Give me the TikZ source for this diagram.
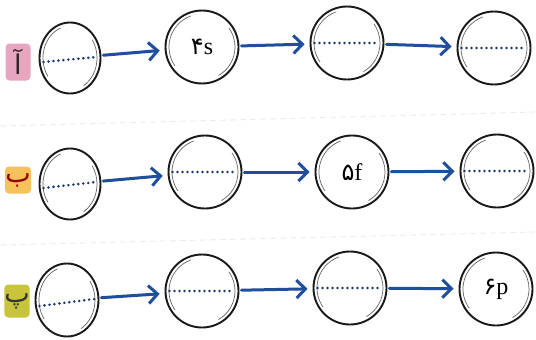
\documentclass[tikz,border=0pt]{standalone}
\usepackage{fontspec}
\setmainfont{Liberation Serif}
\newfontfamily\arabicfont[Script=Arabic]{DejaVu Sans}
\TeXXeTstate=1
\usetikzlibrary{arrows.meta,shapes.geometric}

\definecolor{inkblue}{HTML}{1F4E9C}
\definecolor{dotblue}{HTML}{1A3570}
\definecolor{tagpink}{HTML}{E8A5C0}
\definecolor{tagorange}{HTML}{F5C25C}
\definecolor{taggreen}{HTML}{C8C43C}

\tikzset{
  ring/.style={ellipse, draw=black!90, line width=1.9pt, inner sep=0pt,
    minimum width=73pt, minimum height=73pt,
    font=\fontsize{24}{24}\selectfont},
  firstring/.style={ring, minimum width=61pt, minimum height=71pt},
  innerline/.style={draw=black!60, line width=0.7pt},
  dots/.style={dotblue, line width=2.8pt, line cap=round,
    dash pattern=on 0pt off 5pt},
  link/.style={inkblue, line width=3pt, line cap=round,
    -{Straight Barb[length=9pt,width=18pt]}, shorten <=2pt, shorten >=5pt},
  tag/.style={rounded corners=4pt, inner sep=0pt,
    font=\arabicfont\fontsize{27}{27}\selectfont},
  rule/.style={black!8, line width=0.8pt, dash pattern=on 6pt off 4pt}
}

\begin{document}
\begin{tikzpicture}[x=1pt,y=-1pt]
\useasboundingbox[fill=white] (0,0) rectangle (536,340);

% faint ruling between the rows
\draw[rule] (0,126) -- (536,112);
\draw[rule] (0,245) -- (536,232);

% row tags
\node[tag, fill=tagpink, minimum width=25pt, minimum height=37pt,
      text=black!85] (t1) at (18,62) {\beginR آ\endR};
\node[tag, fill=tagorange, minimum width=26pt, minimum height=27pt,
      text=red!60!black] (t2) at (18,180) {\beginR ب\endR};
\node[tag, fill=taggreen, minimum width=23pt, minimum height=33pt,
      text=black!80] (t3) at (17,301) {\beginR پ\endR};

% first row
\node[firstring] (c11) at (70,58) {};
\node[ring] (c12) at (202,47) {{\arabicfont ۴}s};
\node[ring] (c13) at (347,43) {};
\node[ring] (c14) at (494,48) {};

% second row
\node[firstring] (c21) at (70,184) {};
\node[ring] (c22) at (205,172) {};
\node[ring] (c23) at (352,172) {{\arabicfont ۵}f};
\node[ring] (c24) at (497,171) {};

% third row
\node[firstring, minimum width=63pt, minimum height=73pt] (c31) at (67,300) {};
\node[ring] (c32) at (202,291) {};
\node[ring] (c33) at (350,288) {};
\node[ring] (c34) at (496,289) {{\arabicfont ۶}p};

% thin second stroke inside each ring
\foreach \n/\rx/\ry in {c11/27/32,c21/27/32,c31/28/33,
    c12/33/33,c13/33/33,c14/33/33,c22/33/33,c23/33/33,c24/33/33,
    c32/33/33,c33/33/33,c34/33/33}{
  \draw[innerline] ([shift={(110:\rx pt and \ry pt)}]\n.center)
    arc[start angle=110, end angle=215, x radius=\rx pt, y radius=\ry pt];
  \draw[innerline] ([shift={(-60:\rx pt and \ry pt)}]\n.center)
    arc[start angle=-60, end angle=35, x radius=\rx pt, y radius=\ry pt];
}

% dotted blanks
\draw[dots] ([xshift=5pt,yshift=-4pt]c11.west) -- ([xshift=-5pt,yshift=1pt]c11.east);
\draw[dots] ([xshift=5pt]c13.west) -- ([xshift=-5pt]c13.east);
\draw[dots] ([xshift=5pt]c14.west) -- ([xshift=-5pt]c14.east);
\draw[dots] ([xshift=5pt,yshift=-4pt]c21.west) -- ([xshift=-5pt,yshift=2pt]c21.east);
\draw[dots] ([xshift=5pt]c22.west) -- ([xshift=-5pt]c22.east);
\draw[dots] ([xshift=5pt]c24.west) -- ([xshift=-5pt]c24.east);
\draw[dots] ([xshift=5pt,yshift=-6pt]c31.west) -- ([xshift=-5pt,yshift=1pt]c31.east);
\draw[dots] ([xshift=5pt]c32.west) -- ([xshift=-5pt]c32.east);
\draw[dots] ([xshift=5pt]c33.west) -- ([xshift=-5pt]c33.east);

% arrows
\draw[link] (c11) -- (c12);
\draw[link] (c12) -- (c13);
\draw[link] (c13) -- (c14);
\draw[link] (c21) -- (c22);
\draw[link] (c22) -- (c23);
\draw[link] (c23) -- (c24);
\draw[link] (c31) -- (c32);
\draw[link] (c32) -- (c33);
\draw[link] (c33) -- (c34);
\end{tikzpicture}
\end{document}
